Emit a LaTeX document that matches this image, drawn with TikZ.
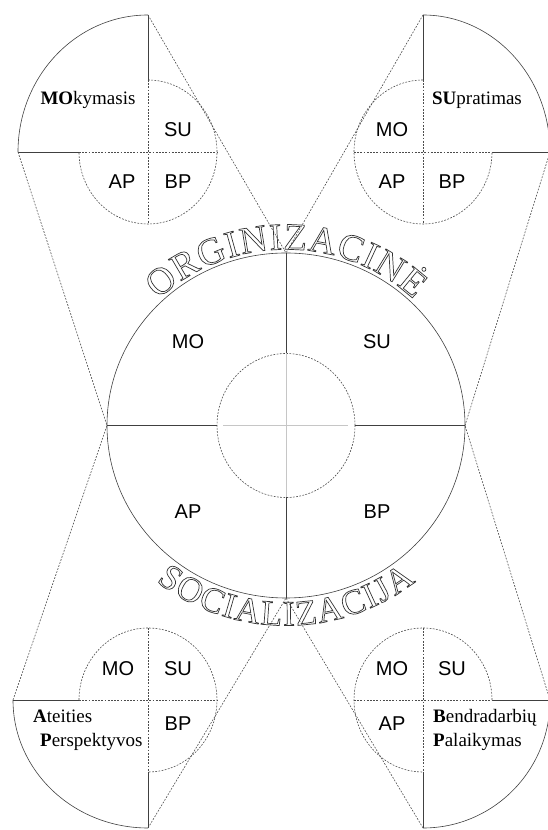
\documentclass[tikz,border=0pt]{standalone}
\usepackage{fontspec}
\setmainfont{Liberation Serif}
\setsansfont{Liberation Sans}
\usepackage{xcolor}
\usetikzlibrary{decorations.text,calc}
\newcommand\hollowtop[1]{\kern0.4pt\special{pdf:literal direct 1 Tr 0.7 w 0.2 G}{\fontsize{38}{38}\selectfont #1}\special{pdf:literal direct 0 Tr}\kern0.4pt}
\newcommand\hollowbot[1]{\kern0.7pt\special{pdf:literal direct 1 Tr 0.7 w 0.2 G}{\fontsize{35.5}{36}\selectfont #1}\special{pdf:literal direct 0 Tr}\kern0.7pt}
\begin{document}
\begin{tikzpicture}[x=1pt,y=1pt,
  solidln/.style={line width=0.6pt, draw=black!75},
  dashln/.style={line width=0.6pt, draw=black!70, dash pattern=on 1.8pt off 1.4pt},
  sflab/.style={font=\sffamily\fontsize{20}{22}\selectfont, inner sep=0pt},
  rmlab/.style={font=\fontsize{19}{21}\selectfont, inner sep=0pt}]
\useasboundingbox (0,0) rectangle (547,830);
% ---------- main circle ----------
\coordinate (C) at (286,404.5);
\coordinate (Mt) at (286,577);
\coordinate (Mb) at (286,232);
\coordinate (Ml) at (107,404.5);
\coordinate (Mr) at (465,404.5);
\coordinate (It) at (286,476.5);
\coordinate (Ib) at (286,332.5);
\coordinate (Il) at (217,404.5);
\coordinate (Ir) at (355,404.5);
\coordinate (Gl) at (223,404.5);
\coordinate (Gr) at (348,404.5);
\draw[solidln] (C) ellipse[x radius=179, y radius=172.5];
\draw[dashln] (C) ellipse[x radius=69, y radius=72];
\draw[solidln] (Mt)--(It) (Ib)--(Mb) (Ml)--(Il) (Ir)--(Mr);
\draw[gray!45, line width=0.5pt] (It)--(Ib) (Gl)--(Gr);
\node[sflab] (mMO) at (188,488) {MO};
\node[sflab] (mSU) at (377,488) {SU};
\node[sflab] (mAP) at (188,318) {AP};
\node[sflab] (mBP) at (377,318) {BP};
% ---------- top-left ----------
\coordinate (TLt) at (148,815);
\coordinate (TLl) at (18,678);
\coordinate (TLst) at (148,750);
\coordinate (TLsb) at (148,606);
\coordinate (TLsl) at (79,678);
\coordinate (TLsr) at (217,678);
\draw[solidln] (TLt) arc[start angle=90,end angle=180,x radius=130,y radius=137];
\draw[solidln] (TLt)--(TLst) (TLl)--(TLsl);
\draw[dashln] (TLst)--(TLsb) (TLsl)--(TLsr);
\draw[dashln] (TLst) arc[start angle=90,end angle=-180,x radius=69,y radius=72];
\draw[dashln] (TLl)--(Ml) (TLt)--(Mt);
\node[rmlab] (tlname) at (88,730) {\textbf{MO}kymasis};
\node[sflab] (tlSU) at (178,700) {SU};
\node[sflab] (tlAP) at (122,648) {AP};
\node[sflab] (tlBP) at (178,648) {BP};
% ---------- top-right ----------
\coordinate (TRt) at (423,815);
\coordinate (TRr) at (550,678);
\coordinate (TRst) at (423,750);
\coordinate (TRsb) at (423,606);
\coordinate (TRsl) at (354,678);
\coordinate (TRsr) at (492,678);
\draw[solidln] (TRr) arc[start angle=0,end angle=90,x radius=127,y radius=137];
\draw[solidln] (TRt)--(TRst) (TRsr)--(TRr);
\draw[dashln] (TRst)--(TRsb) (TRsl)--(TRsr);
\draw[dashln] (TRst) arc[start angle=90,end angle=360,x radius=69,y radius=72];
\draw[dashln] (TRt)--(Mt) (TRr)--(Mr);
\node[rmlab] (trname) at (477,730) {\textbf{SU}pratimas};
\node[sflab] (trMO) at (392,700) {MO};
\node[sflab] (trAP) at (392,648) {AP};
\node[sflab] (trBP) at (452,648) {BP};
% ---------- bottom-left ----------
\coordinate (BLl) at (13,130);
\coordinate (BLb) at (148,2);
\coordinate (BLst) at (148,202);
\coordinate (BLsb) at (148,58);
\coordinate (BLsl) at (79,130);
\coordinate (BLsr) at (217,130);
\draw[solidln] (BLl) arc[start angle=180,end angle=270,x radius=135,y radius=128];
\draw[solidln] (BLl)--(BLsl) (BLsb)--(BLb);
\draw[dashln] (BLst)--(BLsb) (BLsl)--(BLsr);
\draw[dashln] (BLsl) arc[start angle=180,end angle=-90,x radius=69,y radius=72];
\draw[dashln] (BLl)--(Ml) (BLb)--(Mb);
\node[rmlab, anchor=base west] (blname1) at (33,107) {\textbf{A}teities};
\node[rmlab, anchor=base west] (blname2) at (40,83) {\textbf{P}erspektyvos};
\node[sflab] (blMO) at (118,161) {MO};
\node[sflab] (blSU) at (178,161) {SU};
\node[sflab] (blBP) at (178,106) {BP};
% ---------- bottom-right ----------
\coordinate (BRr) at (550,130);
\coordinate (BRb) at (423,2);
\coordinate (BRst) at (423,202);
\coordinate (BRsb) at (423,58);
\coordinate (BRsl) at (354,130);
\coordinate (BRsr) at (492,130);
\draw[solidln] (BRb) arc[start angle=-90,end angle=0,x radius=127,y radius=128];
\draw[solidln] (BRsr)--(BRr) (BRsb)--(BRb);
\draw[dashln] (BRst)--(BRsb) (BRsl)--(BRsr);
\draw[dashln] (BRsr) arc[start angle=0,end angle=270,x radius=69,y radius=72];
\draw[dashln] (BRb)--(Mb) (BRr)--(Mr);
\node[rmlab, anchor=base west] (brname1) at (433,107) {\textbf{B}endradarbių};
\node[rmlab, anchor=base west] (brname2) at (433,83) {\textbf{P}alaikymas};
\node[sflab] (brMO) at (392,161) {MO};
\node[sflab] (brSU) at (452,161) {SU};
\node[sflab] (brAP) at (392,106) {AP};
% ---------- curved titles ----------
\path[decorate, decoration={text effects along path, text={ORGINIZACINĖ}, text align=center,
  text effects/.cd, text along path, character command=\hollowtop}]
  ($(C)+(160:183 and 176)$) arc[start angle=160,end angle=20,x radius=183,y radius=176];
\path[decorate, decoration={text effects along path, text={SOCIALIZACIJA}, text align=center,
  text effects/.cd, text along path, character command=\hollowbot}]
  ($(C)+(210:207 and 200)$) arc[start angle=210,end angle=330,x radius=207,y radius=200];
\end{tikzpicture}
\end{document}
